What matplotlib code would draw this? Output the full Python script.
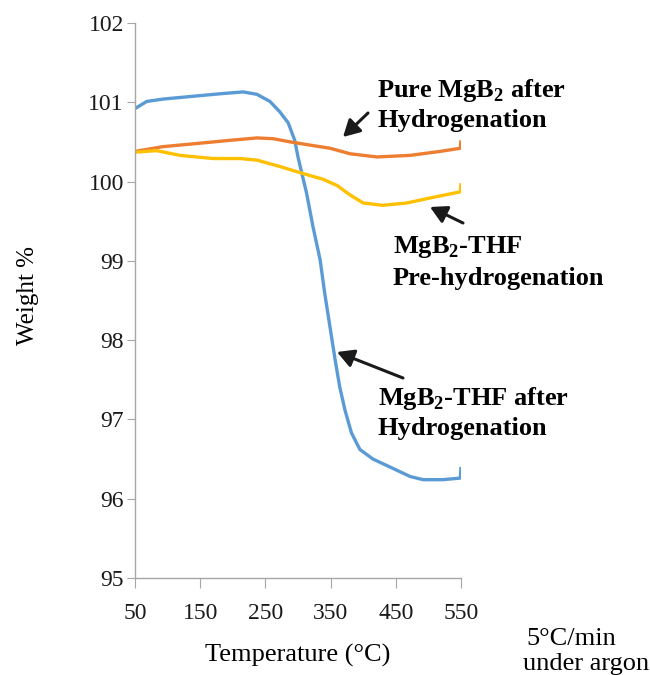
import matplotlib.pyplot as plt

plt.rcParams['font.family'] = ['Liberation Serif', 'DejaVu Serif']
plt.rcParams['mathtext.fontset'] = 'custom'
plt.rcParams['mathtext.rm'] = 'Liberation Serif'
plt.rcParams['mathtext.bf'] = 'Liberation Serif:bold'

# MgB2-THF after hydrogenation (blue)
temp_thf_h = [50, 68, 93, 145, 185, 216, 237, 257, 272, 285, 295, 300, 306, 313, 323,
              334, 341, 349, 357, 364, 372, 382, 395, 415, 441, 472, 492, 522, 549, 550]
wt_thf_h = [100.92, 101.01, 101.04, 101.08, 101.11, 101.13, 101.10, 101.01, 100.88,
            100.74, 100.52, 100.31, 100.10, 99.86, 99.43, 99.01, 98.59, 98.17, 97.75,
            97.41, 97.12, 96.83, 96.62, 96.50, 96.40, 96.28, 96.24, 96.24, 96.26, 96.40]

# Pure MgB2 after hydrogenation (orange)
temp_pure = [50, 93, 145, 196, 237, 262, 288, 318, 349, 380, 421, 472, 518, 549, 550]
wt_pure = [100.38, 100.44, 100.48, 100.52, 100.55, 100.54, 100.50, 100.46, 100.42,
           100.35, 100.31, 100.33, 100.38, 100.42, 100.52]

# MgB2-THF pre-hydrogenation (yellow)
temp_thf_pre = [50, 83, 119, 170, 211, 237, 272, 308, 338, 360, 380, 400, 430, 467,
                507, 549, 550]
wt_thf_pre = [100.37, 100.39, 100.33, 100.29, 100.29, 100.27, 100.19, 100.10, 100.03,
              99.95, 99.83, 99.73, 99.70, 99.73, 99.80, 99.87, 99.98]

xticks = [50, 150, 250, 350, 450, 550]
yticks = [95, 96, 97, 98, 99, 100, 101, 102]

fig = plt.figure(figsize=(6.5, 6.75), dpi=100)
ax = fig.add_axes([0.2077, 0.1437, 0.5015, 0.8223])

ax.plot(temp_thf_h, wt_thf_h, color='#5B9BD5', lw=2.4, solid_capstyle='butt',
        solid_joinstyle='round')
ax.plot(temp_pure, wt_pure, color='#ED7D31', lw=2.4, solid_capstyle='butt',
        solid_joinstyle='round')
ax.plot(temp_thf_pre, wt_thf_pre, color='#FFC000', lw=2.4, solid_capstyle='butt',
        solid_joinstyle='round')

ax.set_xlim(50, 550)
ax.set_ylim(95, 102)
ax.set_xticks(xticks)
ax.set_yticks(yticks)
for s in ['top', 'right']:
    ax.spines[s].set_visible(False)
for s in ['left', 'bottom']:
    ax.spines[s].set_color('#A6A6A6')
    ax.spines[s].set_linewidth(1.0)
ax.tick_params(axis='both', colors='#A6A6A6', labelcolor='#1a1a1a', labelsize=17)
ax.tick_params(axis='y', length=6, pad=2)
ax.tick_params(axis='x', length=7, pad=11)

ax.set_xlabel('Temperature (°C)', fontsize=19, labelpad=14)


def fx(px):
    return px / 650


def fy(py):
    return 1 - py / 675


fig.text(fx(28), fy(295), 'Weight %', fontsize=18, rotation=90, ha='center', va='center')
fig.text(fx(571), fy(639), '5°C/min', fontsize=19, ha='center', va='center')
fig.text(fx(586), fy(664), 'under argon', fontsize=19, ha='center', va='center')

tk = dict(fontsize=19, fontweight='bold', ha='left', va='center', transform=fig.transFigure)
ax.text(fx(377), fy(90), r'Pure MgB$_\mathbf{2}$ after', **tk)
ax.text(fx(377), fy(121), 'Hydrogenation', **tk)
ax.text(fx(393), fy(247), r'MgB$_\mathbf{2}$-THF', **tk)
ax.text(fx(393), fy(278), 'Pre-hydrogenation', **tk)
ax.text(fx(378), fy(398), r'MgB$_\mathbf{2}$-THF after', **tk)
ax.text(fx(378), fy(428), 'Hydrogenation', **tk)

arr = dict(arrowstyle='-|>,head_length=1.0,head_width=0.55', color='#1a1a1a', lw=2.2,
           shrinkA=0, shrinkB=0)
for (x0, y0), (x1, y1) in [((368, 113), (343, 137)),
                           ((463, 223), (430, 207)),
                           ((403, 378), (337, 352))]:
    ax.annotate('', xy=(fx(x1), fy(y1)), xytext=(fx(x0), fy(y0)),
                xycoords='figure fraction', textcoords='figure fraction', arrowprops=arr)

fig.savefig('out.png', dpi=100)
